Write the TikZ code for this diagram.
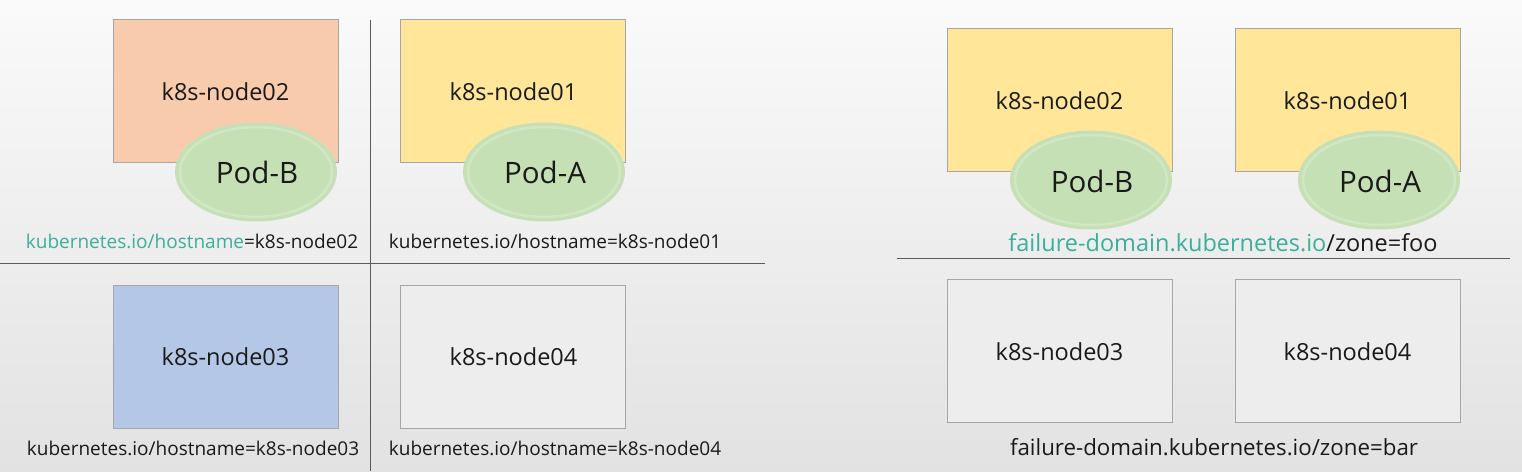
\documentclass[tikz,border=0pt]{standalone}
\usepackage{fontspec}
\setmainfont{Open Sans}
\usetikzlibrary{shapes.geometric}
\definecolor{bgtop}{HTML}{FAFAFA}
\definecolor{bgbot}{HTML}{E2E2E2}
\definecolor{orangebox}{HTML}{F8CBAD}
\definecolor{yellowbox}{HTML}{FFE699}
\definecolor{bluebox}{HTML}{B4C7E7}
\definecolor{graybox}{HTML}{EDEDED}
\definecolor{podgreen}{HTML}{C5E0B4}
\definecolor{tealtext}{HTML}{3AAF9A}
\definecolor{boxedge}{HTML}{A6A6A6}
\definecolor{divider}{HTML}{5A5A5A}
\definecolor{txt}{HTML}{1A1A1A}
\tikzset{
  x=1pt, y=-1pt,
  hostbox/.style={draw=boxedge, line width=0.9pt, minimum width=225pt, minimum height=143pt, inner sep=0pt},
  hosttext/.style={font=\fontsize{23.5}{26}\selectfont, text=txt, inner sep=0pt},
  pod/.style={ellipse, fill=podgreen, minimum width=162pt, minimum height=99pt, inner sep=0pt},
  podtext/.style={font=\fontsize{29.5}{32}\selectfont, text=txt, inner sep=0pt},
  lbl/.style={font=\fontsize{19}{22}\selectfont, text=txt, inner sep=0pt},
  lblbig/.style={font=\fontsize{23.5}{26}\selectfont, text=txt, inner sep=0pt},
  divline/.style={draw=divider, line width=0.9pt},
}
\newcommand{\podgloss}[1]{%
  \draw[white, opacity=0.22, line width=2.5pt] (#1.center) ellipse [x radius=76pt, y radius=45pt];
}
\begin{document}
\begin{tikzpicture}
\useasboundingbox (0,0) rectangle (1522,471);
\shade[top color=bgtop, bottom color=bgbot] (0,0) rectangle (1522,471);

% ---------- left section ----------
\node[hostbox, fill=orangebox, anchor=north west] (ln2) at (113,19) {};
\node[hosttext] (ln2t) at (225.5,92) {k8s-node02};
\node[pod] (lpb) at (256,172) {};
\podgloss{lpb}
\node[podtext] (lpbt) at (257,172) {Pod-B};

\node[hostbox, fill=yellowbox, anchor=north west] (ln1) at (400,19) {};
\node[hosttext] (ln1t) at (513.5,92) {k8s-node01};
\node[pod] (lpa) at (544,172) {};
\podgloss{lpa}
\node[podtext] (lpat) at (545,172) {Pod-A};

\node[lbl] (ll2) at (192,241) {{\color{tealtext}kubernetes.io/hostname}=k8s-node02};
\node[lbl] (ll1) at (555,241) {kubernetes.io/hostname=k8s-node01};

\node[hostbox, fill=bluebox, anchor=north west] (ln3) at (113,285) {};
\node[hosttext] (ln3t) at (225.5,357) {k8s-node03};
\node[hostbox, fill=graybox, anchor=north west] (ln4) at (400,285) {};
\node[hosttext] (ln4t) at (513.5,357) {k8s-node04};

\node[lbl] (ll3) at (193,448) {kubernetes.io/hostname=k8s-node03};
\node[lbl] (ll4) at (555,448) {kubernetes.io/hostname=k8s-node04};

\coordinate (vtop) at (370,20);
\coordinate (vbot) at (370,471);
\draw[divline] (vtop) -- (vbot);
\coordinate (hl1) at (0,263);
\coordinate (hl2) at (765,263);
\draw[divline] (hl1) -- (hl2);

% ---------- right section ----------
\node[hostbox, fill=yellowbox, anchor=north west] (rn2) at (947,28) {};
\node[hosttext] (rn2t) at (1059.5,101) {k8s-node02};
\node[pod] (rpb) at (1091,180) {};
\podgloss{rpb}
\node[podtext] (rpbt) at (1092,181) {Pod-B};

\node[hostbox, fill=yellowbox, anchor=north west] (rn1) at (1235,28) {};
\node[hosttext] (rn1t) at (1347.5,101) {k8s-node01};
\node[pod] (rpa) at (1379,180) {};
\podgloss{rpa}
\node[podtext] (rpat) at (1380,181) {Pod-A};

\node[lblbig] (rfoo) at (1223,243) {{\color{tealtext}failure-domain.kubernetes.io}/zone=foo};
\coordinate (hr1) at (897,258);
\coordinate (hr2) at (1510,258);
\draw[divline] (hr1) -- (hr2);

\node[hostbox, fill=graybox, anchor=north west] (rn3) at (947,279) {};
\node[hosttext] (rn3t) at (1059.5,352) {k8s-node03};
\node[hostbox, fill=graybox, anchor=north west] (rn4) at (1235,279) {};
\node[hosttext] (rn4t) at (1347.5,352) {k8s-node04};

\node[lblbig, font=\fontsize{22.3}{25}\selectfont] (rbar) at (1214,447) {failure-domain.kubernetes.io/zone=bar};
\end{tikzpicture}
\end{document}
